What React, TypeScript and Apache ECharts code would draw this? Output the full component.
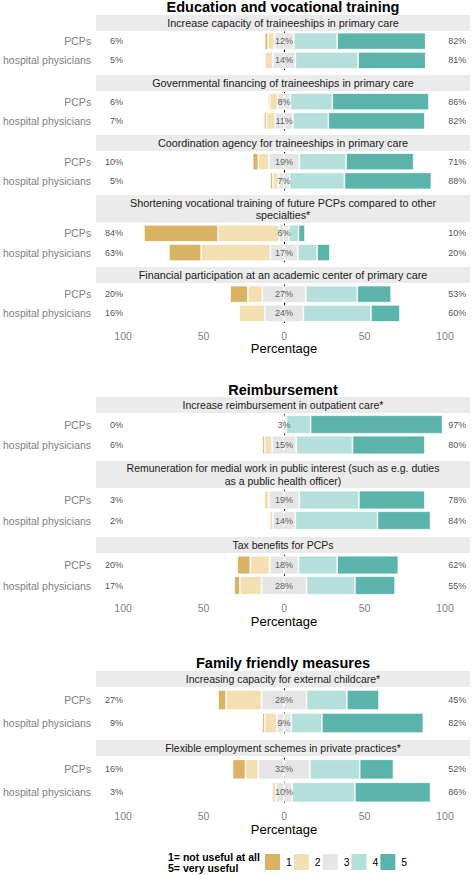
import { useEffect, useRef } from "react";
import * as echarts from "echarts";

const FONT = "Liberation Sans, Arial, sans-serif";

const groups = ["PCPs", "hospital physicians"];
const levels = ["1", "2", "3", "4", "5"];
const sectionTitles = ["Education and vocational training", "Reimbursement", "Family friendly measures"];
const questions = [
  "Increase capacity of traineeships in primary care",
  "Governmental financing of traineeships in primary care",
  "Coordination agency for traineeships in primary care",
  "Shortening vocational training of future PCPs compared to other\nspecialties*",
  "Financial participation at an academic center of primary care",
  "Increase reimbursement in outpatient care*",
  "Remuneration for medial work in public interest (such as e.g. duties\nas a public health officer)",
  "Tax benefits for PCPs",
  "Increasing capacity for external childcare*",
  "Flexible employment schemes in private practices*",
];
const questionSection = [0, 0, 0, 0, 0, 1, 1, 1, 2, 2];

// percentage answering each level, per question (PCPs)
const level1PCP = [2, 1, 3.5, 46, 11, 0, 0, 8, 5, 8];
const level2PCP = [4, 5, 6.5, 38, 9, 0, 3, 12, 22, 8];
const level3PCP = [12, 8, 19, 6, 27, 3, 19, 18, 28, 32];
const level4PCP = [27, 26, 29, 6, 32, 15, 37, 24, 25, 31];
const level5PCP = [55, 60, 42, 4, 21, 82, 41, 38, 20, 21];
// percentage answering each level, per question (hospital physicians)
const level1Hosp = [0, 1.5, 1.5, 20, 0, 1.5, 0, 3.5, 1.5, 0.5];
const level2Hosp = [5, 5.5, 3.5, 43, 16, 4.5, 2, 13.5, 7.5, 2.5];
const level3Hosp = [14, 11, 7, 17, 24, 15, 14, 28, 9, 10];
const level4Hosp = [39, 22, 34, 12, 42, 35, 51, 30, 19, 39];
const level5Hosp = [42, 60, 54, 8, 18, 45, 33, 25, 63, 47];

const xTicks = [-100, -50, 0, 50, 100];

const COLORS = ["#D9B263", "#F3DFB1", "#E5E5E5", "#B4DFDA", "#5BB4AB"];

// layout (pixels)
const PANEL_LEFT = 96;
const PANEL_WIDTH = 374;
const CENTER_X = PANEL_LEFT + PANEL_WIDTH / 2;
const facetLayout = [
  { stripTop: 15, stripH: 16, gridTop: 31.5, band: 19.25, bar: 17 },
  { stripTop: 75, stripH: 16, gridTop: 92, band: 19.25, bar: 17 },
  { stripTop: 135, stripH: 16, gridTop: 152, band: 19.25, bar: 17 },
  { stripTop: 195, stripH: 27.5, gridTop: 223.7, band: 19.25, bar: 17 },
  { stripTop: 267, stripH: 16, gridTop: 284.5, band: 19.25, bar: 17 },
  { stripTop: 397, stripH: 16, gridTop: 414.25, band: 20.5, bar: 18.5 },
  { stripTop: 461, stripH: 27, gridTop: 489.75, band: 20.5, bar: 18.5 },
  { stripTop: 537, stripH: 16, gridTop: 554.75, band: 20.5, bar: 18.5 },
  { stripTop: 671, stripH: 16, gridTop: 688.5, band: 23, bar: 20 },
  { stripTop: 740, stripH: 16, gridTop: 757.8, band: 23, bar: 20 },
];
const titleY = [6.5, 389.5, 663];
const axisShownOn = [4, 7, 9];

function buildOption() {
  const grid: any[] = [];
  const xAxis: any[] = [];
  const yAxis: any[] = [];
  const series: any[] = [];
  const graphic: any[] = [];

  sectionTitles.forEach((t, s) => {
    graphic.push({
      type: "text",
      x: CENTER_X,
      y: titleY[s],
      silent: true,
      style: {
        text: t,
        fontFamily: FONT,
        fontSize: 14.5,
        fontWeight: "bold",
        fill: "#000",
        align: "center",
        verticalAlign: "middle",
        textAlign: "center",
        textVerticalAlign: "middle",
      },
    });
  });

  questions.forEach((q, i) => {
    const f = facetLayout[i];
    const sec = questionSection[i];
    graphic.push({
      type: "rect",
      silent: true,
      shape: { x: PANEL_LEFT, y: f.stripTop, width: PANEL_WIDTH, height: f.stripH },
      style: { fill: "#EBEBEB" },
    });
    graphic.push({
      type: "text",
      silent: true,
      x: CENTER_X,
      y: f.stripTop + f.stripH / 2,
      style: {
        text: q,
        fontFamily: FONT,
        fontSize: sec === 0 ? 10.8 : 10.5,
        lineHeight: sec === 0 ? 12 : 13,
        fill: "#1A1A1A",
        align: "center",
        verticalAlign: "middle",
        textAlign: "center",
        textVerticalAlign: "middle",
      },
    });

    grid.push({ left: PANEL_LEFT, width: PANEL_WIDTH, top: f.gridTop, height: f.band * 2 });
    const showAxis = axisShownOn.includes(i);
    xAxis.push({
      type: "value",
      gridIndex: i,
      min: -115.5,
      max: 115.5,
      show: showAxis,
      axisLine: { show: false },
      axisTick: { show: false },
      splitLine: { show: false },
      axisLabel: {
        show: showAxis,
        customValues: xTicks,
        formatter: (v: number) => String(Math.abs(v)),
        color: "#808080",
        fontSize: 10.5,
        fontFamily: FONT,
        margin: 7,
      },
      name: showAxis ? "Percentage" : "",
      nameLocation: "middle",
      nameGap: 19,
      nameTextStyle: { fontSize: 13, color: "#000", fontFamily: FONT },
    });
    yAxis.push({
      type: "category",
      gridIndex: i,
      data: groups,
      inverse: true,
      axisLine: { show: false },
      axisTick: { show: false },
      splitLine: { show: false },
      axisLabel: { color: "#808080", fontSize: 10.5, fontFamily: FONT, margin: 7 },
    });

    const l1 = [level1PCP[i], level1Hosp[i]];
    const l2 = [level2PCP[i], level2Hosp[i]];
    const l3 = [level3PCP[i], level3Hosp[i]];
    const l4 = [level4PCP[i], level4Hosp[i]];
    const l5 = [level5PCP[i], level5Hosp[i]];

    const base = {
      type: "bar",
      xAxisIndex: i,
      yAxisIndex: i,
      stack: "q" + i,
      barWidth: f.bar,
      silent: true,
      z: 3,
    };
    const st = (c: string) => ({ color: c, borderColor: "#FFFFFF", borderWidth: 0.7 });
    series.push({ ...base, name: "3", data: l3.map((v) => -v / 2), itemStyle: st(COLORS[2]) });
    series.push({ ...base, name: "2", data: l2.map((v) => -v), itemStyle: st(COLORS[1]) });
    series.push({ ...base, name: "1", data: l1.map((v) => -v), itemStyle: st(COLORS[0]) });
    series.push({ ...base, name: "3", data: l3.map((v) => v / 2), itemStyle: st(COLORS[2]) });
    series.push({ ...base, name: "4", data: l4, itemStyle: st(COLORS[3]) });
    series.push({ ...base, name: "5", data: l5, itemStyle: st(COLORS[4]) });

    // zero reference line (beneath bars)
    series.push({
      type: "scatter",
      xAxisIndex: i,
      yAxisIndex: i,
      symbolSize: 0,
      silent: true,
      z: 1,
      data: [[0, 0]],
      markLine: {
        silent: true,
        z: 1,
        symbol: ["none", "none"],
        label: { show: false },
        lineStyle: { color: "#000", type: [3, 3], width: 1 },
        data: [{ xAxis: 0 }],
      },
    });

    const lbl = { fontSize: 9, fontFamily: FONT, color: "#1A1A1A" };
    // neutral label
    series.push({
      type: "scatter",
      xAxisIndex: i,
      yAxisIndex: i,
      symbolSize: 0,
      silent: true,
      z: 6,
      data: [0, 1].map((j) => ({ value: [0, j], label: { formatter: Math.round(l3[j]) + "%" } })),
      label: { show: true, position: "inside", ...lbl, color: "#333" },
    });
    // negative total
    series.push({
      type: "scatter",
      xAxisIndex: i,
      yAxisIndex: i,
      symbolSize: 0,
      silent: true,
      z: 6,
      data: [0, 1].map((j) => ({ value: [-100, j], label: { formatter: Math.round(l1[j] + l2[j]) + "%" } })),
      label: { show: true, position: "left", distance: 0, ...lbl },
    });
    // positive total
    series.push({
      type: "scatter",
      xAxisIndex: i,
      yAxisIndex: i,
      symbolSize: 0,
      silent: true,
      z: 6,
      data: [0, 1].map((j) => ({ value: [102, j], label: { formatter: Math.round(l4[j] + l5[j]) + "%" } })),
      label: { show: true, position: "right", distance: 0, ...lbl },
    });
  });

  graphic.push({
    type: "text",
    silent: true,
    x: 168,
    y: 862.5,
    style: {
      text: "1= not useful at all\n5= very useful",
      fontFamily: FONT,
      fontSize: 10.5,
      fontWeight: "bold",
      lineHeight: 11,
      fill: "#000",
      align: "left",
      verticalAlign: "middle",
      textAlign: "left",
      textVerticalAlign: "middle",
    },
  });

  return {
    animation: false,
    textStyle: { fontFamily: FONT },
    grid,
    xAxis,
    yAxis,
    series,
    graphic,
    legend: {
      data: levels,
      left: 263,
      top: 852,
      padding: 0,
      itemWidth: 17,
      itemHeight: 18,
      itemGap: 0,
      icon: "rect",
      selectedMode: false,
      textStyle: { fontSize: 10.5, color: "#000", fontFamily: FONT },
    },
  };
}

export default function App() {
  const ref = useRef<HTMLDivElement>(null);
  useEffect(() => {
    if (!ref.current) return;
    const chart = echarts.init(ref.current, null, { renderer: "svg" });
    chart.setOption(buildOption() as any);
    return () => chart.dispose();
  }, []);
  return (
    <div
      ref={ref}
      style={{ position: "absolute", left: 0, top: 0, width: 472, height: 875, background: "#fff" }}
    />
  );
}
